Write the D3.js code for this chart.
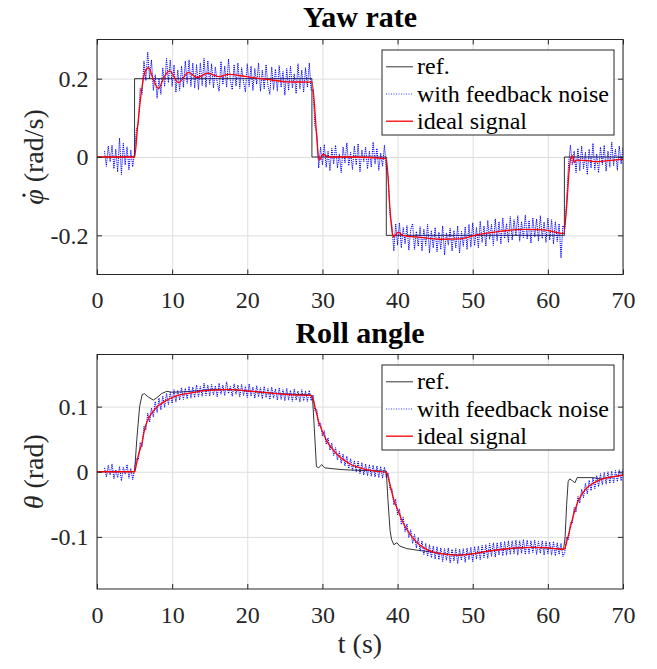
<!DOCTYPE html>
<html>
<head>
<meta charset="utf-8">
<title>Yaw rate / Roll angle</title>
<script src="https://cdn.jsdelivr.net/npm/d3@7"></script>
<style>
body{ margin:0; background:#fff; }
text{ font-family:"Liberation Serif","Times New Roman",serif; }
</style>
</head>
<body>
<script>

// ---- data ----
var xTicks = [0, 10, 20, 30, 40, 50, 60, 70];
var yawTicks = [-0.2, 0, 0.2];
var yawTickLabels = ["-0.2", "0", "0.2"];
var rollTicks = [-0.1, 0, 0.1];
var rollTickLabels = ["-0.1", "0", "0.1"];
var legendLabels = ["ref.", "with feedback noise", "ideal signal"];

// reference (black)
var yawRefT = [0, 5, 5, 28.6, 28.6, 38.5, 38.5, 62.2, 62.2, 70];
var yawRef  = [0, 0, 0.2, 0.2, 0, 0, -0.2, -0.2, 0, 0];

var rollRefT = [0, 5, 5.3, 5.67, 6, 6.3, 6.8, 7.5, 8, 8.6, 9.3, 10, 12, 15, 18, 20, 24, 28.5, 28.7, 29, 29.2, 29.5, 29.9, 30.3, 31.4, 33, 35, 38.5,
  38.7, 39, 39.2, 39.5, 39.9, 40.3, 41.2, 43, 44.3, 46, 48, 50, 52, 54, 56, 58, 60, 62.1, 62.3, 62.5, 62.7, 62.9, 63.3, 63.6, 63.9, 66, 67, 68, 70];
var rollRef  = [0, 0, 0.05, 0.1, 0.118, 0.12, 0.115, 0.11, 0.114, 0.12, 0.1235, 0.122, 0.123, 0.126, 0.126, 0.124, 0.12, 0.118, 0.11, 0.05, 0.008, 0.006, 0.011, 0.006, 0.0046, 0.003, 0.002, 0.001,
  -0.04, -0.09, -0.104, -0.112, -0.109, -0.114, -0.118, -0.121, -0.123, -0.126, -0.128, -0.126, -0.122, -0.119, -0.117, -0.116, -0.117, -0.119, -0.1, -0.05, -0.015, -0.011, -0.014, -0.017, -0.009, -0.009, -0.011, -0.009, -0.005];

// ideal signal (red)
var yawIdealT = [0, 5, 5.4, 6, 6.4, 6.86, 7.5, 8.2, 8.85, 9.65, 10.85, 12.2, 13.3, 14.75, 16.2, 17.5, 19.9, 22.6, 25.3, 28.6, 29.24, 29.46, 29.6, 30.1, 30.8, 34, 38.5,
  39, 39.3, 39.45, 40.1, 40.75, 43, 45.6, 48.3, 50.5, 53.2, 56.7, 59.4, 62, 62.1, 62.5, 62.8, 63.1, 63.3, 63.5, 63.8, 65.6, 66.4, 68, 70];
var yawIdeal  = [0, 0, 0.077, 0.18, 0.218, 0.228, 0.197, 0.175, 0.201, 0.22, 0.19, 0.216, 0.203, 0.214, 0.205, 0.211, 0.205, 0.198, 0.192, 0.191, 0.052, 0, -0.008, 0.007, 0, 0, -0.004,
  -0.135, -0.195, -0.204, -0.192, -0.201, -0.205, -0.21, -0.209, -0.199, -0.191, -0.185, -0.186, -0.195, -0.195, -0.127, -0.042, 0.001, 0.003, -0.014, -0.008, -0.01, -0.012, -0.009, -0.006];

var rollIdealT = [0, 5, 5.25, 5.5, 5.75, 6, 6.25, 6.5, 6.75, 7, 7.5, 8, 8.5, 9, 10, 11, 12, 13, 14, 15, 17, 18, 20, 22, 24, 26, 28.6,
  28.75, 29, 29.5, 30, 30.5, 31, 32, 33, 34, 35, 36, 37, 38.5, 38.75, 39, 39.5, 40, 40.5, 41, 42, 43, 44, 45, 46, 48, 50, 52, 54, 56, 58, 60, 62,
  62.25, 62.5, 63, 63.5, 64, 64.5, 65, 66, 67, 68, 69, 70];
var rollIdeal  = [0, 0, 0.012, 0.025, 0.035, 0.045, 0.06, 0.072, 0.079, 0.085, 0.093, 0.1, 0.104, 0.108, 0.114, 0.118, 0.12, 0.122, 0.124, 0.125, 0.126, 0.126, 0.124, 0.122, 0.12, 0.118, 0.117,
  0.112, 0.1, 0.077, 0.062, 0.049, 0.04, 0.026, 0.017, 0.01, 0.006, 0.003, 0.001, -0.001, -0.008, -0.02, -0.043, -0.058, -0.072, -0.084, -0.101, -0.113, -0.12, -0.124, -0.126, -0.128, -0.126, -0.122, -0.119, -0.117, -0.116, -0.117, -0.119,
  -0.118, -0.108, -0.085, -0.063, -0.046, -0.035, -0.027, -0.018, -0.012, -0.009, -0.007, -0.005];

// with feedback noise (blue), sampled every 0.25 s from t = 1 s, values in 1/1000
var noisyStart = 1, noisyStep = 0.25;
var yawNoisyMilli = [
  15,-24,28,-12,30,-30,20,-38,48,-45,35,-20,26,-33,18,-25,
  12,70,85,175,160,245,195,268,200,248,170,210,150,200,160,228,180,252,190,248,180,235,165,222,170,232,178,245,188,248,180,240,176,236,172,240,182,252,178,246,185,
  238,176,230,190,168,244,185,232,178,250,195,172,236,181,240,175,228,192,166,238,180,232,170,226,186,240,168,222,174,236,182,160,230,172,224,168,233,178,218,158,226,170,232,176,212,162,238,174,222,165,228,178,240,170,
  170,80,62,-28,25,-20,32,-26,15,-35,22,-18,30,-28,8,-40,26,-15,36,-22,12,-32,28,-20,34,-38,18,-12,25,-30,15,-26,38,-18,22,-34,10,-24,30,-28,
  -50,-150,-175,-240,-170,-225,-168,-232,-180,-222,-175,-238,-185,-170,-236,-190,-228,-178,-240,-184,-226,-172,-245,-188,-232,-180,-242,-192,-236,-176,-250,-194,-225,-182,-240,-188,-232,-176,-246,-190,-228,-178,-236,-172,-230,-168,-226,-180,-232,-164,-218,-176,-228,-162,-210,-172,-226,-158,-214,-165,-222,-155,-208,-170,-218,-152,-212,-160,-200,-150,-215,-165,-206,-148,-210,-162,-220,-155,-204,-158,-214,-150,-208,-166,-218,-156,-212,-160,-222,-165,-216,-170,-258,-175,
  -185,-110,-20,30,-20,15,-40,22,-35,28,-30,12,-45,20,-28,35,-32,8,-40,25,-20,30,-36,15,-26,38,-22,20,-34,28,-18,24
];
var rollNoisyMilli = [
  6,-8,10,-5,12,-11,3,-9,8,-14,7,-4,11,-10,5,-12,
  4,20,18,45,38,70,64,90,76,98,84,108,91,113,95,116,99,120,103,122,105,126,107,125,110,129,111,128,112,131,113,130,114,133,115,131,116,136,117,133,116,
  134,118,132,115,136,119,133,117,138,120,131,116,135,119,133,115,134,117,131,114,135,116,130,113,132,115,129,112,131,114,128,111,130,113,127,110,129,111,126,109,128,110,125,108,127,110,124,107,126,109,124,108,125,109,
  118,94,96,70,75,55,63,42,52,33,44,25,37,18,31,13,27,9,24,5,20,2,17,0,16,-3,14,-5,12,-6,11,-7,10,-8,9,-9,8,-10,7,-9,
  -2,-27,-26,-51,-42,-66,-57,-81,-70,-92,-80,-101,-89,-110,-96,-117,-101,-122,-106,-127,-110,-130,-112,-132,-114,-134,-115,-135,-117,-138,-118,-136,-117,-140,-119,-137,-118,-141,-119,-136,-118,-139,-117,-135,-116,-138,-115,-134,-114,-135,-113,-132,-112,-133,-110,-130,-109,-131,-109,-128,-108,-129,-107,-128,-106,-127,-106,-126,-105,-128,-106,-125,-104,-127,-105,-126,-106,-124,-105,-127,-107,-125,-106,-128,-107,-126,-108,-128,-107,-129,-109,-127,-110,-130,
  -124,-100,-104,-78,-80,-55,-62,-38,-48,-27,-40,-18,-34,-13,-29,-9,-26,-6,-23,-3,-20,-1,-19,0,-18,1,-17,2,-15,3,-14,4
];

// ---- helpers ----
function zipPoints(t, y){
	return t.map(function(d, i){ return [d, y[i]]; });
}
function noisyPoints(milli){
	return milli.map(function(v, i){ return [noisyStart + i * noisyStep, v / 1000]; });
}

var W = 657, H = 669;
var axColor = "#262626";
var gridColor = "#dedede";
var serif = "'Liberation Serif','Times New Roman',serif";
var left = 97, right = 623;

var styles = [
	{stroke: "#000", width: 0.8, dash: null},
	{stroke: "#0000ff", width: 1, dash: "1.2,0.9"},
	{stroke: "#ff0000", width: 1.3, dash: null}
];

var panels = [
	{title: "Yaw rate", titleY: 26.7, top: 39.5, bottom: 274.5, yDomain: [-0.3, 0.3],
	 yTicks: yawTicks, yLabels: yawTickLabels,
	 series: [zipPoints(yawRefT, yawRef), noisyPoints(yawNoisyMilli), zipPoints(yawIdealT, yawIdeal)],
	 ySym: "\u03C6", yDot: true, yUnit: " (rad/s)"},
	{title: "Roll angle", titleY: 342.7, top: 354.5, bottom: 589, yDomain: [-0.18, 0.18],
	 yTicks: rollTicks, yLabels: rollTickLabels,
	 series: [zipPoints(rollRefT, rollRef), noisyPoints(rollNoisyMilli), zipPoints(rollIdealT, rollIdeal)],
	 ySym: "\u03B8", yDot: false, yUnit: " (rad)"}
];

var svg = d3.select("body").append("svg")
	.attr("width", W)
	.attr("height", H);

panels.forEach(function(p, pi){

	var pw = right - left;
	var ph = p.bottom - p.top;

	var x = d3.scaleLinear().domain([0, 70]).range([0, pw]);
	var y = d3.scaleLinear().domain(p.yDomain).range([ph, 0]);

	var g = svg.append("g")
		.attr("transform", "translate(" + left + "," + p.top + ")");

	g.append("clipPath").attr("id", "clip" + pi)
		.append("rect").attr("width", pw).attr("height", ph);

	// grid
	g.append("g")
		.attr("transform", "translate(0," + ph + ")")
		.call(d3.axisBottom(x).tickValues(xTicks).tickSize(-ph).tickFormat(""))
		.call(function(s){ s.select(".domain").remove(); s.selectAll("line").attr("stroke", gridColor); });
	g.append("g")
		.call(d3.axisLeft(y).tickValues(p.yTicks).tickSize(-pw).tickFormat(""))
		.call(function(s){ s.select(".domain").remove(); s.selectAll("line").attr("stroke", gridColor); });

	// lines
	var line = d3.line()
		.x(function(d){ return x(d[0]); })
		.y(function(d){ return y(d[1]); });

	var plot = g.append("g").attr("clip-path", "url(#clip" + pi + ")");
	p.series.forEach(function(s, si){
		var st = styles[si];
		var path = plot.append("path")
			.datum(s)
			.attr("fill", "none")
			.attr("stroke", st.stroke)
			.attr("stroke-width", st.width)
			.attr("d", line.curve(si === 2 ? d3.curveMonotoneX : d3.curveLinear));
		if(st.dash){ path.attr("stroke-dasharray", st.dash); }
	});

	// axes, ticks inward on all sides
	var xb = g.append("g")
		.attr("transform", "translate(0," + ph + ")")
		.call(d3.axisBottom(x).tickValues(xTicks).tickSizeInner(-5).tickSizeOuter(0).tickPadding(16.5));
	var xt = g.append("g")
		.call(d3.axisTop(x).tickValues(xTicks).tickSizeInner(-5).tickSizeOuter(0).tickFormat(""));
	var yl = g.append("g")
		.call(d3.axisLeft(y).tickValues(p.yTicks).tickSizeInner(-5).tickSizeOuter(0).tickPadding(8.5)
			.tickFormat(function(d, i){ return p.yLabels[i]; }));
	var yr = g.append("g")
		.attr("transform", "translate(" + pw + ",0)")
		.call(d3.axisRight(y).tickValues(p.yTicks).tickSizeInner(-5).tickSizeOuter(0).tickFormat(""));

	[xb, xt, yl, yr].forEach(function(a){
		a.attr("font-family", null);
		a.select(".domain").remove();
		a.selectAll("line").attr("stroke", axColor);
		a.selectAll("text")
			.attr("fill", axColor)
			.style("font-size", "24px")
			.style("font-family", serif);
	});

	g.append("rect")
		.attr("width", pw)
		.attr("height", ph)
		.attr("fill", "none")
		.attr("stroke", axColor)
		.attr("stroke-width", 1);

	// title
	svg.append("text")
		.attr("x", left + pw / 2)
		.attr("y", p.titleY)
		.attr("text-anchor", "middle")
		.style("font-family", serif)
		.style("font-size", "30px")
		.style("font-weight", "bold")
		.text(p.title);

	// y label (rotated), dot above phi drawn as a small circle
	var yg = svg.append("g")
		.attr("transform", "translate(43," + (p.top + ph / 2) + ") rotate(-90)");
	var yt = yg.append("text")
		.attr("fill", axColor)
		.style("font-family", serif)
		.style("font-size", "28px");
	var sym = yt.append("tspan").style("font-style", "italic").text(p.ySym);
	yt.append("tspan").text(p.yUnit);
	var total = yt.node().getComputedTextLength();
	var symW = sym.node().getComputedTextLength();
	yt.attr("x", -total / 2);
	if(p.yDot){
		yg.append("circle")
			.attr("cx", -total / 2 + symW * 0.62)
			.attr("cy", -19)
			.attr("r", 1.6)
			.attr("fill", axColor);
	}

	// legend
	var lg = g.append("g")
		.attr("transform", "translate(" + (pw - 9 - 232) + ",10.5)");
	lg.append("rect")
		.attr("width", 232)
		.attr("height", 85)
		.attr("fill", "#fff")
		.attr("stroke", axColor)
		.attr("stroke-width", 1);
	legendLabels.forEach(function(lab, i){
		var cy = 16.8 + i * 27.2;
		var st = styles[i];
		var ln = lg.append("line")
			.attr("x1", 4).attr("x2", 31)
			.attr("y1", cy).attr("y2", cy)
			.attr("stroke", st.stroke)
			.attr("stroke-width", i === 1 ? 0.8 : st.width);
		if(st.dash){ ln.attr("stroke-dasharray", "1,1.5"); }
		lg.append("text")
			.attr("x", 35)
			.attr("y", cy + 7.5)
			.attr("fill", "#000")
			.style("font-family", serif)
			.style("font-size", "24px")
			.text(lab);
	});
});

// x label
svg.append("text")
	.attr("x", (left + right) / 2)
	.attr("y", 653)
	.attr("text-anchor", "middle")
	.attr("fill", axColor)
	.style("font-family", serif)
	.style("font-size", "28px")
	.text("t (s)");

</script>
</body>
</html>
